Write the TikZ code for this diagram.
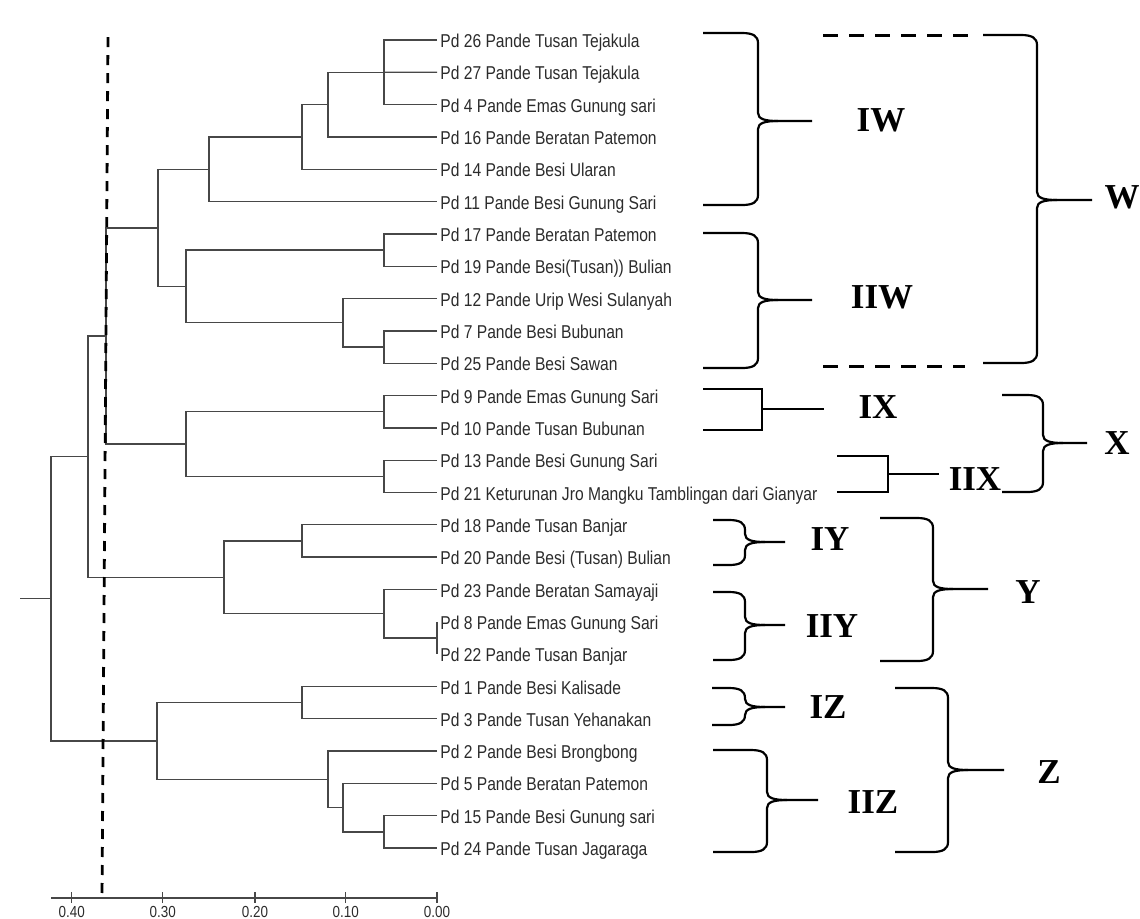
\documentclass[tikz,border=0pt]{standalone}
\usepackage{fontspec}
\newfontfamily\leaffont[FakeStretch=0.84]{Liberation Sans}
\newfontfamily\grpfont{Liberation Serif}
\definecolor{treegray}{HTML}{474747}
\definecolor{inkgray}{HTML}{2B2B2B}

\begin{document}
\begin{tikzpicture}[x=0.5pt, y=-0.5pt,
  branch/.style={draw=treegray, line width=0.65pt},
  leaf/.style={anchor=base west, inner sep=0pt, xshift=1.5pt, yshift=-3.8pt, text=inkgray, font=\leaffont\fontsize{9.3}{11}\selectfont},
  ticklbl/.style={anchor=south, inner sep=0pt, text=inkgray, font=\leaffont\fontsize{8}{9}\selectfont},
  brc/.style={draw=black, line width=1.1pt},
  grp/.style={inner sep=0pt, font=\grpfont\bfseries\fontsize{17.5}{20}\selectfont},
  cut/.style={draw=black, line width=1.4pt, dash pattern=on 5pt off 4pt},
  wdash/.style={draw=black, line width=1.5pt, dash pattern=on 7.5pt off 5.5pt}
]
  \useasboundingbox (0,0) rectangle (1140,918);
  % leaves
  \foreach \lbl [count=\i from 0] in {Pd 26 Pande Tusan Tejakula, Pd 27 Pande Tusan Tejakula,
    Pd 4 Pande Emas Gunung sari, Pd 16 Pande Beratan Patemon, Pd 14 Pande Besi Ularan,
    Pd 11 Pande Besi Gunung Sari, Pd 17 Pande Beratan Patemon, Pd 19 Pande Besi(Tusan)) Bulian,
    Pd 12 Pande Urip Wesi Sulanyah, Pd 7 Pande Besi Bubunan, Pd 25 Pande Besi Sawan,
    Pd 9 Pande Emas Gunung Sari, Pd 10 Pande Tusan Bubunan, Pd 13 Pande Besi Gunung Sari,
    Pd 21 Keturunan Jro Mangku Tamblingan dari Gianyar, Pd 18 Pande Tusan Banjar,
    Pd 20 Pande Besi (Tusan) Bulian, Pd 23 Pande Beratan Samayaji, Pd 8 Pande Emas Gunung Sari,
    Pd 22 Pande Tusan Banjar, Pd 1 Pande Besi Kalisade, Pd 3 Pande Tusan Yehanakan,
    Pd 2 Pande Besi Brongbong, Pd 5 Pande Beratan Patemon, Pd 15 Pande Besi Gunung sari,
    Pd 24 Pande Tusan Jagaraga} {
    \coordinate (t\i) at (437,{40+32.32*\i});
    \node[leaf] (n\i) at (t\i) {\lbl};
  }
  % merge points
  \foreach \n/\x/\y in {a1/384/72.3, a2/328/104.6, a3/302/137, a4/209/169.3,
    b1/384/250, b2/384/347, b3/343/322.8, b4/186/286.4, gw/158/227.9,
    c1/384/411.7, c2/384/476.3, gx/186/444, wx/106/336,
    d1/302/541, d2/437/637.9, d3/384/613.7, gy/224/577.3, wxy/88/456.7,
    e1/302/702.6, e2/384/831.9, e3/343/807.6, e4/328/779.3, gz/157/741, root/51/598.8}
    \coordinate (\n) at (\x,\y);
  \coordinate (stub) at (20,598.8);
  \foreach \m/\p/\q in {a1/t0/t2, a2/a1/t3, a3/a2/t4, a4/a3/t5, b1/t6/t7, b2/t9/t10,
    b3/t8/b2, b4/b1/b3, gw/a4/b4, c1/t11/t12, c2/t13/t14, gx/c1/c2, wx/gw/gx,
    d1/t15/t16, d2/t18/t19, d3/t17/d2, gy/d1/d3, wxy/wx/gy,
    e1/t20/t21, e2/t24/t25, e3/t23/e2, e4/t22/e3, gz/e1/e4, root/wxy/gz}
    \draw[branch] (\p) -| (\m) |- (\q);
  \draw[branch] (t1) -- (a1);
  \draw[branch] (stub) -- (root);
  % axis
  \coordinate (ax0) at (51,898);
  \coordinate (ax1) at (437,898);
  \draw[branch] (ax0) -- (ax1);
  \foreach \v/\x [count=\k] in {0.40/71.7, 0.30/162.7, 0.20/255, 0.10/345.7, 0.00/437} {
    \draw[branch] (\x,892) -- (\x,903);
    \node[ticklbl] (tk\k) at (\x,918) {\v};
  }
  % cut-off line
  \coordinate (cuttop) at (108,37);
  \coordinate (cutbot) at (102,898);
  \draw[cut] (cuttop) -- (cutbot);
  % braces
  \foreach \xa/\xb/\xc/\ya/\yb/\yc in {703/758/812/33/121/205, 703/758/812/233/300/368,
    983/1037/1092/35/200/363, 1002/1043/1087/395/443/492,
    713/745/785/520/542/565, 713/745/785/592/625/660, 880/933/988/518/589/661,
    712/745/785/688/707/725, 713/767/818/750/800/852, 895/948/1004/688/770/852} {
    \draw[brc] (\xa,\ya) -- (\xb-16,\ya) .. controls (\xb-5,\ya) and (\xb,\ya+3) .. (\xb,\ya+10)
      -- (\xb,\yb-8) .. controls (\xb,\yb-2) and (\xb+7,\yb) .. (\xb+20,\yb) -- (\xc,\yb);
    \draw[brc] (\xa,\yc) -- (\xb-16,\yc) .. controls (\xb-5,\yc) and (\xb,\yc-3) .. (\xb,\yc-10)
      -- (\xb,\yb+8) .. controls (\xb,\yb+2) and (\xb+7,\yb) .. (\xb+20,\yb);
  }
  % square brackets
  \draw[brc] (703,389) -| (762,430) -- (703,430);
  \draw[brc] (762,409) -- (824,409);
  \draw[brc] (837,456) -| (888,492) -- (837,492);
  \draw[brc] (888,474) -- (939,474);
  % W dashes
  \draw[wdash] (823,35) -- (970,35);
  \draw[wdash] (823,366) -- (965,366);
  % group labels
  \foreach \nm/\x/\y in {IW/881/120, IIW/882/297, W/1122/197, IX/878/407, IIX/975/479,
    X/1117/443, IY/830/539, IIY/832/626, Y/1028/592, IZ/828/707, IIZ/873/802, Z/1049/772}
    \node[grp] (g\nm) at (\x,\y) {\nm};
\end{tikzpicture}
\end{document}
